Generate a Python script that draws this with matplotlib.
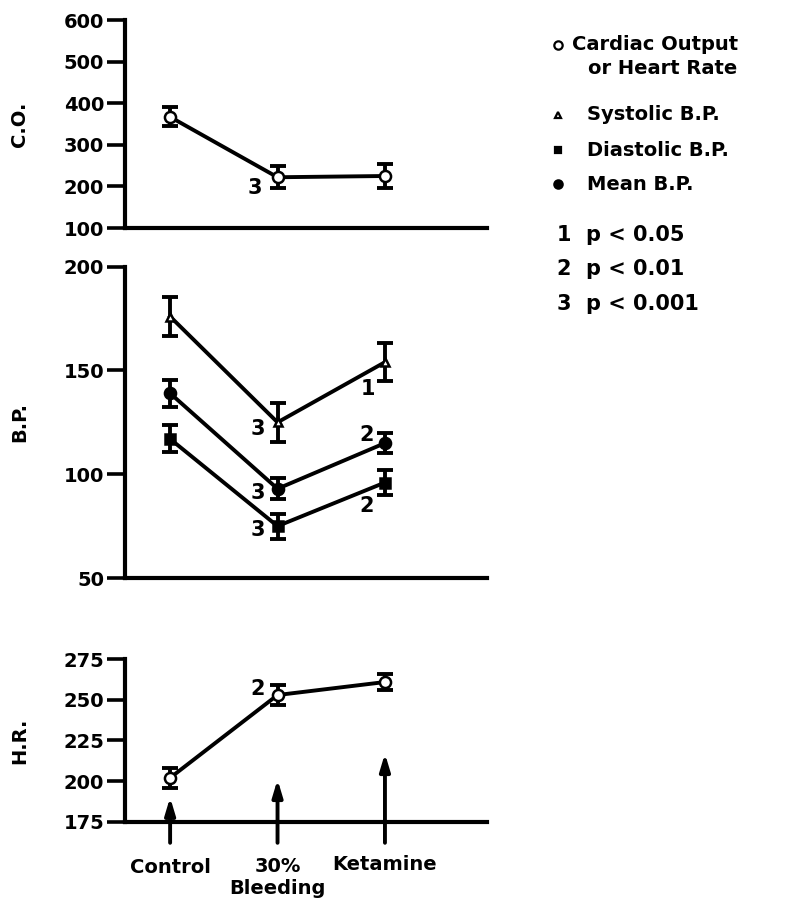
import matplotlib
matplotlib.use('Agg')
import matplotlib.pyplot as plt
from matplotlib.lines import Line2D

plt.rcParams['font.family'] = ['DejaVu Sans']
plt.rcParams['font.weight'] = 'bold'

stages = [0, 1, 2]
stage_labels = ['Control', '30%\nBleeding', 'Ketamine']

co_mean = [367, 222, 225]
co_err = [23, 26, 28]
co_sig = [None, '3', None]

sys_mean = [176, 125, 154]
sys_err = [9.5, 9.5, 9]
sys_sig = [None, '3', '1']

mean_bp = [139, 93, 115]
mean_err = [6.5, 5, 5]
mean_sig = [None, '3', '2']

dia_mean = [117, 75, 96]
dia_err = [6.5, 6, 6]
dia_sig = [None, '3', '2']

hr_mean = [202, 253, 261]
hr_err = [6, 6, 5]
hr_sig = [None, '2', None]

# arrows marking the interventions on the H.R. panel
arrow_tip = [190, 201, 217]
arrow_base = 162

W, H = 786, 905
fig = plt.figure(figsize=(W / 100, H / 100), dpi=100)

LW = 2.8
FS = 14


def make_ax(top, bottom):
    ax = fig.add_axes([125 / W, 1 - bottom / H, 362 / W, (bottom - top) / H])
    for s in ('top', 'right'):
        ax.spines[s].set_visible(False)
    for s in ('left', 'bottom'):
        ax.spines[s].set_linewidth(3)
    ax.tick_params(axis='y', direction='out', length=13, width=2.6, labelsize=FS, pad=2)
    ax.tick_params(axis='x', length=0, labelbottom=False)
    ax.set_xlim(-0.42, 2.95)
    return ax


def series(ax, y, err, marker, face, ms, sig, offs):
    ax.plot(stages, y, color='black', lw=LW, zorder=2)
    ax.errorbar(stages, y, yerr=err, fmt='none', ecolor='black', elinewidth=2.8,
                capsize=6, capthick=2.8, zorder=3)
    ax.plot(stages, y, ls='none', marker=marker, ms=ms, mfc=face, mec='black',
            mew=1.8, zorder=4)
    for x, v, s in zip(stages, y, sig):
        if s:
            ax.annotate(s, (x, v), xytext=offs[x], textcoords='offset points',
                        ha='center', va='center', fontsize=FS + 1, fontweight='bold')


def ylab(ax, txt):
    ax.set_ylabel(txt, fontsize=FS, fontweight='bold')
    ax.yaxis.set_label_coords(-0.265, 0.5)


# C.O. panel
ax1 = make_ax(20, 228)
ax1.set_ylim(100, 600)
ax1.set_yticks([100, 200, 300, 400, 500, 600])
series(ax1, co_mean, co_err, 'o', 'white', 8, co_sig, {1: (-16, -8)})
ylab(ax1, 'C.O.')

# B.P. panel
ax2 = make_ax(266.7, 578)
ax2.set_ylim(50, 200)
ax2.set_yticks([50, 100, 150, 200])
series(ax2, sys_mean, sys_err, '^', 'white', 6, sys_sig, {1: (-14, -5), 2: (-12, -19)})
series(ax2, mean_bp, mean_err, 'o', 'black', 8, mean_sig, {1: (-14, -3), 2: (-13, 6)})
series(ax2, dia_mean, dia_err, 's', 'black', 7, dia_sig, {1: (-14, -3), 2: (-13, -17)})
ylab(ax2, 'B.P.')

# H.R. panel
ax3 = make_ax(659.3, 821.7)
ax3.set_ylim(175, 275)
ax3.set_yticks([175, 200, 225, 250, 275])
series(ax3, hr_mean, hr_err, 'o', 'white', 8, hr_sig, {1: (-14, 4)})
ylab(ax3, 'H.R.')

for x, tip in zip(stages, arrow_tip):
    ax3.annotate('', xy=(x, tip), xytext=(x, arrow_base), annotation_clip=False,
                 arrowprops=dict(arrowstyle='-|>,head_length=1.0,head_width=0.3',
                                 lw=2.8, color='black', shrinkA=0, shrinkB=0))

label_off = [(0, -33), (0, -40), (0, -31)]
for x, lab, off in zip(stages, stage_labels, label_off):
    ax3.annotate(lab, (x, 175), xytext=off, textcoords='offset points',
                 annotation_clip=False, ha='center', va='center',
                 fontsize=FS, fontweight='bold', linespacing=1.2)

# legend on the right
leg_items = [
    ('o', 'white', 6, 'Cardiac Output', 45),
    ('^', 'white', 5, 'Systolic B.P.', 115),
    ('s', 'black', 5, 'Diastolic B.P.', 150),
    ('o', 'black', 6, 'Mean B.P.', 184),
]
for mk, fc, ms, txt, y in leg_items:
    fig.add_artist(Line2D([558 / W], [1 - y / H], marker=mk, ms=ms, mfc=fc, mec='black',
                          mew=1.6, ls='none', transform=fig.transFigure))
    x0 = 572 if txt.startswith('Cardiac') else 587
    fig.text(x0 / W, 1 - y / H, txt, fontsize=FS, fontweight='bold', va='center')
fig.text(588 / W, 1 - 68 / H, 'or Heart Rate', fontsize=FS, fontweight='bold', va='center')

p_labels = ['1  p < 0.05', '2  p < 0.01', '3  p < 0.001']
p_rows = [235, 269, 304]
for txt, y in zip(p_labels, p_rows):
    fig.text(557 / W, 1 - y / H, txt, fontsize=FS + 1, fontweight='bold', va='center')

fig.savefig('out.png', dpi=100)
